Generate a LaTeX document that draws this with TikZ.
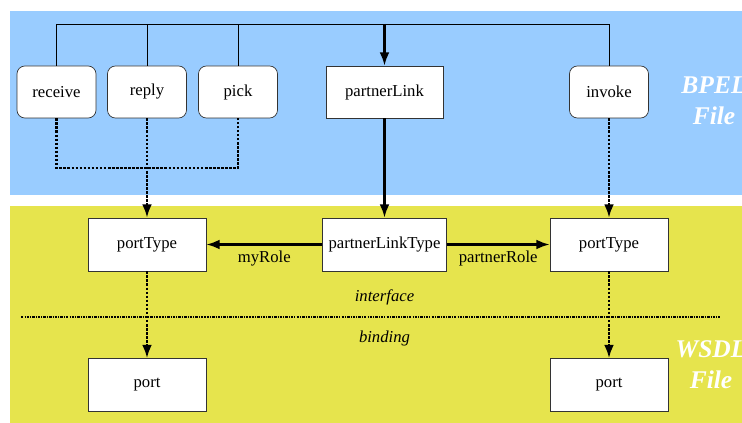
\documentclass[tikz,border=0pt]{standalone}
\usepackage{fontspec}
\setmainfont{Liberation Serif}
\usepackage{tikz}
\usetikzlibrary{arrows.meta}

\definecolor{bpelblue}{RGB}{153,204,255}
\definecolor{wsdlyellow}{RGB}{230,228,77}

\begin{document}
\begin{tikzpicture}
	[activity/.style={draw=black!80,fill=white,rounded corners=4.5pt,
	   minimum width=1.58cm,minimum height=1.04cm,font=\fontsize{9.5}{11}\selectfont},
	 element/.style={draw=black!80,fill=white,
	   minimum width=2.36cm,minimum height=1.06cm,font=\fontsize{9.5}{11}\selectfont},
	 refers/.style={-{Latex[length=7.5pt,width=5.5pt]},line width=1.2pt},
	 dots/.style={line width=1.2pt,dash pattern=on 1.5pt off 0.8pt},
	 implements/.style={dots,-{Latex[length=7.5pt,width=5.5pt]}},
	 filelabel/.style={white,align=center,font=\fontsize{14.5}{17.5}\selectfont\bfseries\itshape},
	 layer/.style={font=\fontsize{9.5}{11}\selectfont\itshape}]
	\useasboundingbox (0,0) rectangle (14.84,8.46);
	% the two files as coloured bands
	\fill[bpelblue] (0.2,4.56) rectangle (15,8.24);
	\fill[wsdlyellow] (0.2,0) rectangle (15,4.34);
	\node[filelabel] (bpel) at (14.28,6.44) {BPEL\\File};
	\node[filelabel] (wsdl) at (14.22,1.16) {WSDL\\File};

	%
	% BPEL side
	%
	\node[activity] (receive) at (1.13,6.62) {receive};
	\node[activity] (reply) at (2.94,6.62) {reply};
	\node[activity] (pick) at (4.76,6.62) {pick};
	\node[element,minimum width=2.34cm,minimum height=1.04cm] (partnerLink) at (7.69,6.62) {partnerLink};
	\node[activity] (invoke) at (12.18,6.62) {invoke};
	\coordinate (bus) at (0,7.98);
	\coordinate (merge) at (0,5.10);

	% links from the activities to the partner link
	\draw[line width=0.55pt] (receive.north) -- (receive.north |- bus) -- (invoke.north |- bus) -- (invoke.north);
	\draw[line width=0.55pt] (reply.north) -- (reply.north |- bus);
	\draw[line width=0.55pt] (pick.north) -- (pick.north |- bus);
	\draw[refers] (partnerLink.north |- bus) -- (partnerLink.north);

	%
	% WSDL side
	%
	\node[element] (ptMy) at (2.94,3.57) {portType};
	\node[element,minimum width=2.34cm] (plt) at (7.69,3.57) {partnerLinkType};
	\node[element] (ptPartner) at (12.18,3.57) {portType};
	\node[element] (portMy) at (2.94,0.76) {port};
	\node[element] (portPartner) at (12.18,0.76) {port};

	% interface / binding split
	\coordinate (splitL) at (0.42,2.12);
	\coordinate (splitR) at (14.4,2.12);
	\draw[line width=1.2pt,dash pattern=on 1.4pt off 0.6pt on 0.6pt off 0.6pt] (splitL) -- (splitR);
	\node[layer] (iface) at (7.69,2.52) {interface};
	\node[layer] (bind) at (7.69,1.70) {binding};

	% activities to port types
	\draw[dots] (receive.south) |- (pick.south |- merge) -- (pick.south);
	\draw[implements] (reply.south) -- (ptMy.north);
	\draw[implements] (invoke.south) -- (ptPartner.north);
	\draw[refers] (partnerLink.south) -- (plt.north);

	% roles
	\draw[refers] (plt.west) -- (ptMy.east)
		node[midway,below,font=\fontsize{9.5}{11}\selectfont] {myRole};
	\draw[refers] (plt.east) -- (ptPartner.west)
		node[midway,below,font=\fontsize{9.5}{11}\selectfont] {partnerRole};

	% port types to ports
	\draw[implements] (ptMy.south) -- (portMy.north);
	\draw[implements] (ptPartner.south) -- (portPartner.north);

\end{tikzpicture}
\end{document}
